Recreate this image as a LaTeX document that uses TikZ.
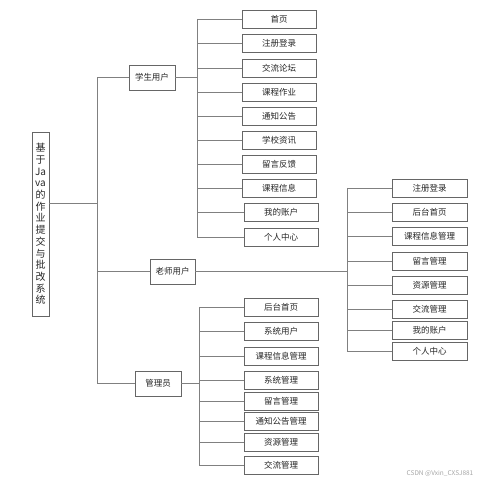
\documentclass[tikz,border=0pt]{standalone}
\usepackage{fontspec}
\setmainfont{Noto Sans CJK SC}
\usetikzlibrary{positioning}
\tikzset{
    boxn/.style = {rectangle, draw=black!60, line width=0.7pt, fill=white, align=center, inner sep=0pt, minimum height=18pt, minimum width=74pt, text=black!85, font=\fontsize{8.5}{9}\selectfont},
    boxg/.style = {boxn, minimum height=25pt, minimum width=46pt},
}
\begin{document}
\begin{tikzpicture}[
	x=1pt, y=-1pt,
	line width=0.8pt
]
\tikzset{
    edgen/.style = {-, draw=black!50},
}
\useasboundingbox (0,0) rectangle (499,484);
% root
\node[boxn, minimum width=17pt, minimum height=184pt, font=\fontsize{10}{11.7}\selectfont] at (40.5,224) (root) {基\\于\\Ja\\va\\的\\作\\业\\提\\交\\与\\批\\改\\系\\统};
% groups
\node[boxg] at (152,77.5) (stu) {学生用户};
\node[boxg, minimum width=45pt] at (172.5,271.5) (tea) {老师用户};
\node[boxg] at (158,383.5) (adm) {管理员};
% student
\node[boxn] at (279,19) (s1) {首页};
\node[boxn] at (279,43) (s2) {注册登录};
\node[boxn] at (279,68) (s3) {交流论坛};
\node[boxn] at (279,92) (s4) {课程作业};
\node[boxn] at (279,116) (s5) {通知公告};
\node[boxn] at (279,140) (s6) {学校资讯};
\node[boxn] at (279,164) (s7) {留言反馈};
\node[boxn] at (279,188.5) (s8) {课程信息};
\node[boxn] at (281,212.5) (s9) {我的账户};
\node[boxn] at (281,237) (s10) {个人中心};
% teacher
\node[boxn, minimum width=75pt] at (429.5,188) (t1) {注册登录};
\node[boxn, minimum width=75pt] at (429.5,212) (t2) {后台首页};
\node[boxn, minimum width=75pt] at (429.5,236.5) (t3) {课程信息管理};
\node[boxn, minimum width=75pt] at (429.5,261) (t4) {留言管理};
\node[boxn, minimum width=75pt] at (429.5,285) (t5) {资源管理};
\node[boxn, minimum width=75pt] at (429.5,309) (t6) {交流管理};
\node[boxn, minimum width=75pt] at (429.5,330) (t7) {我的账户};
\node[boxn, minimum width=75pt] at (429.5,351) (t8) {个人中心};
% admin
\node[boxn] at (281,307) (a1) {后台首页};
\node[boxn] at (281,331.5) (a2) {系统用户};
\node[boxn] at (281,356) (a3) {课程信息管理};
\node[boxn] at (281,380.5) (a4) {系统管理};
\node[boxn] at (281,401.5) (a5) {留言管理};
\node[boxn] at (281,421.5) (a6) {通知公告管理};
\node[boxn] at (281,442.5) (a7) {资源管理};
\node[boxn] at (281,465.5) (a8) {交流管理};
% buses
\coordinate (trunk) at (97,203);
\coordinate (sbus) at (197,0);
\coordinate (tbus) at (347,0);
\coordinate (abus) at (199,0);
%
\draw[edgen] (root.east |- trunk) -- (trunk);
\draw[edgen] (trunk |- stu) -- (trunk |- adm);
\draw[edgen] (trunk |- stu) -- (stu.west);
\draw[edgen] (trunk |- tea) -- (tea.west);
\draw[edgen] (trunk |- adm) -- (adm.west);
%
\draw[edgen] (stu.east) -- (sbus |- stu);
\draw[edgen] (sbus |- s1) -- (sbus |- s10);
\foreach \n in {s1,s2,s3,s4,s5,s6,s7,s8,s9,s10}
    \draw[edgen] (sbus |- \n) -- (\n.west);
%
\draw[edgen] (tea.east) -- (tbus |- tea);
\draw[edgen] (tbus |- t1) -- (tbus |- t8);
\foreach \n in {t1,t2,t3,t4,t5,t6,t7,t8}
    \draw[edgen] (tbus |- \n) -- (\n.west);
%
\draw[edgen] (adm.east) -- (abus |- adm);
\draw[edgen] (abus |- a1) -- (abus |- a8);
\foreach \n in {a1,a2,a3,a4,a5,a6,a7,a8}
    \draw[edgen] (abus |- \n) -- (\n.west);
% watermark
\node[text=black!35, font=\fontsize{6.5}{7}\selectfont] at (440,474) (mark) {CSDN @Vxin\_CXSJ881};
\end{tikzpicture}
\end{document}
